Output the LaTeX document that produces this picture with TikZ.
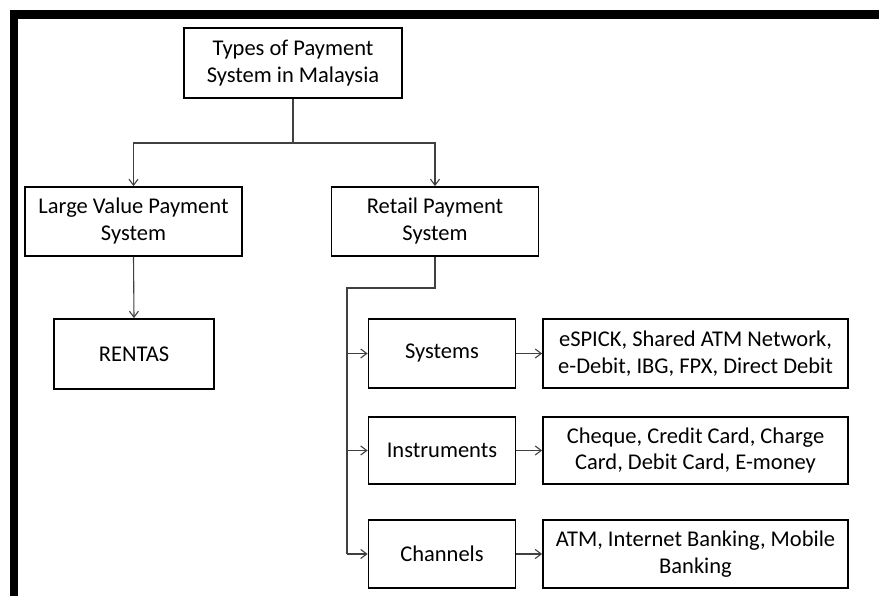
\documentclass[tikz,border=0pt]{standalone}
\usepackage{fontspec}
\setmainfont{Carlito}
\usepackage{tikz}
\usetikzlibrary{arrows.meta, positioning, calc}

\begin{document}
\begin{tikzpicture}[
    x=1pt, y=-1pt,
    box/.style={rectangle, draw, line width=1.8pt, minimum height=69pt, align=center,
        inner sep=2pt, font=\fontsize{22.5}{27}\selectfont},
    link/.style={draw=black!75, line width=1.1pt},
    arrow/.style={link, -{Straight Barb[length=6pt, width=9pt, line width=1.1pt]}}
]
    \useasboundingbox (0,0) rectangle (879,596);
    % frame
    \fill (10,10) rectangle (879,19);
    \fill (10,10) rectangle (17.5,596);

    \node[box, minimum width=218pt, minimum height=70pt] (types) at (293,63) {Types of Payment\\System in Malaysia};
    \node[box, minimum width=217pt] (large) at (133.5,221.5) {Large Value Payment\\System};
    \node[box, minimum width=207pt] (retail) at (435,221.5) {Retail Payment\\System};
    \node[box, minimum width=160pt, minimum height=70pt] (rentas) at (134,354) {RENTAS};

    \node[box, minimum width=147pt] (systems) at (442,353.5) {Systems};
    \node[box, minimum width=147pt, minimum height=67pt] (instruments) at (442,450.5) {Instruments};
    \node[box, minimum width=147pt, minimum height=68pt] (channels) at (442,554) {Channels};

    \node[box, minimum width=305pt] (sysitems) at (695.5,353.5) {eSPICK, Shared ATM Network,\\e-Debit, IBG, FPX, Direct Debit};
    \node[box, minimum width=305pt, minimum height=67pt] (instritems) at (695.5,450.5) {Cheque, Credit Card, Charge\\Card, Debit Card, E-money};
    \node[box, minimum width=305pt, minimum height=68pt] (chanitems) at (695.5,554) {ATM, Internet Banking, Mobile\\Banking};

    \coordinate (split) at (293,143);
    \coordinate (rail) at (347,288);

    \draw[link] (types.south) -- (split);
    \draw[arrow] (split) -| (large.north);
    \draw[arrow] (split) -| (retail.north);
    \draw[arrow] (large.south) -- (rentas.north);

    \draw[link] (retail.south) |- (rail) -- (rail |- channels.west);
    \draw[arrow] (rail |- systems.west) -- (systems.west);
    \draw[arrow] (rail |- instruments.west) -- (instruments.west);
    \draw[arrow] (rail |- channels.west) -- (channels.west);

    \draw[arrow] (systems) -- (sysitems);
    \draw[arrow] (instruments) -- (instritems);
    \draw[arrow] (channels) -- (chanitems);
\end{tikzpicture}
\end{document}
